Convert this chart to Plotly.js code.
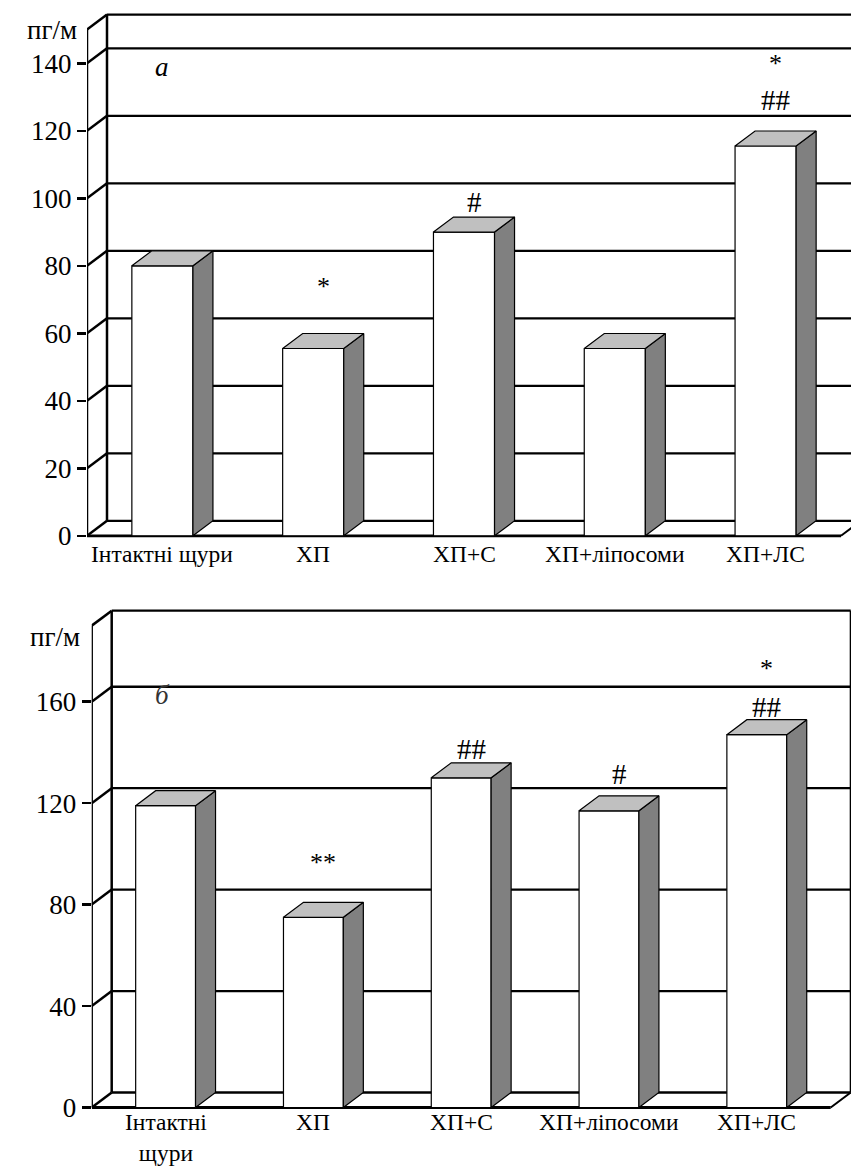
<!DOCTYPE html>
<html><head><meta charset="utf-8">
<script src="https://cdn.plot.ly/plotly-3.0.1.min.js"></script>
<style>html,body{margin:0;padding:0;overflow:hidden;background:#fff}</style>
</head><body><div id="chart" style="width:870px;height:1167px"></div>
<script>
// ---------- data ----------
const categoriesA = ['Інтактні щури', 'ХП', 'ХП+С', 'ХП+ліпосоми', 'ХП+ЛС'];
const categoriesB = ['Інтактні<br>щури', 'ХП', 'ХП+С', 'ХП+ліпосоми', 'ХП+ЛС'];
const valuesA = [80, 55.5, 90, 55.5, 115.5];
const valuesB = [119, 75, 130, 117, 147];
const ticksA = [0, 20, 40, 60, 80, 100, 120, 140];
const ticksB = [0, 40, 80, 120, 160];
const axisMaxA = 150;
const axisMaxB = 190;
const hashA = ['', '', '#', '', '##'];
const starA = ['', '*', '', '', '*'];
const hashB = ['', '', '##', '#', '##'];
const starB = ['', '**', '', '', '*'];
const unitLabel = 'пг/м';
const panelLetterA = 'а';
const panelLetterB = 'б';

// ---------- layout geometry (pixels) ----------
const W = 870, H = 1167;
const DX = 20, DY = 15;       // 3-D depth offset in px
const BARW = 0.405;           // bar width as fraction of category
const FONT = 'Liberation Serif, Times New Roman, DejaVu Serif, serif';
const panels = [
  {key: 'A', vals: valuesA, cats: categoriesA, ticks: ticksA, max: axisMaxA, hash: hashA, star: starA,
   letter: panelLetterA, xFront: 87, catW: 150.8, y0: 535.8, ppu: 3.375, top: 5, bottom: 545, labelShift: -3,
   hashOff: [0, 0, 30, 0, 46], starOff: [0, 62, 0, 0, 82], unitPos: [52, 30], letterPos: [162, 67], letterColor: '#000'},
  {key: 'B', vals: valuesB, cats: categoriesB, ticks: ticksB, max: axisMaxB, hash: hashB, star: starB,
   letter: panelLetterB, xFront: 91.7, catW: 147.8, y0: 1107.5, ppu: 2.536, top: 598, bottom: 1115, labelShift: 1,
   hashOff: [0, 0, 29, 37, 28], starOff: [0, 55, 0, 0, 66], unitPos: [55, 637], letterPos: [162, 695], letterColor: '#333'}
];

const data = [];
const shapes = [];
const annotations = [];
const layout = {
  width: W, height: H, margin: {l: 0, r: 0, t: 0, b: 0},
  paper_bgcolor: '#fff', plot_bgcolor: 'rgba(0,0,0,0)', showlegend: false,
  font: {family: FONT, color: '#000'}
};

panels.forEach((p, k) => {
  const sfx = k === 0 ? '' : '2';
  const xa = 'x' + sfx, ya = 'y' + sfx;
  const dxU = DX / p.catW, dyU = DY / p.ppu;
  const xLeft = -0.5, xRight = p.cats.length - 0.5;
  layout['xaxis' + sfx] = {
    domain: [p.xFront / W, 1], range: [-0.5, -0.5 + (W - p.xFront) / p.catW],
    visible: false, fixedrange: true, anchor: ya
  };
  layout['yaxis' + sfx] = {
    domain: [1 - p.bottom / H, 1 - p.top / H],
    range: [(p.y0 - p.bottom) / p.ppu, (p.y0 - p.top) / p.ppu],
    anchor: xa, tickmode: 'array', tickvals: p.ticks, ticktext: p.ticks.map(String),
    ticks: 'outside', ticklen: 9, tickwidth: 2.5, tickcolor: '#000',
    showgrid: false, zeroline: false, showline: false,
    tickfont: {family: FONT, size: 27, color: '#000'}, fixedrange: true
  };
  const line = (x0, y0, x1, y1, w) => shapes.push({type: 'line', xref: xa, yref: ya, x0, y0, x1, y1,
    layer: 'below', line: {color: '#000', width: w}});
  const levels = p.ticks.concat([p.max]);
  levels.forEach(v => {
    line(xLeft, v, xLeft + dxU, v + dyU, 2.5);                 // connector to back wall
    line(xLeft + dxU, v + dyU, xRight + dxU, v + dyU, 2.3);    // back-wall gridline
  });
  line(xLeft, 0, xLeft, p.max, 2.5);                           // front axis
  line(xLeft + dxU, dyU, xLeft + dxU, p.max + dyU, 2.5);       // back wall left edge
  line(xRight + dxU, dyU, xRight + dxU, p.max + dyU, 2);       // back wall right edge
  line(xRight, 0, xRight + dxU, dyU, 2);                       // floor right edge
  line(xLeft, 0, xRight, 0, 2.8);                              // front floor edge

  const xs = p.vals.map((_, i) => i);
  data.push({type: 'bar', x: xs, y: p.vals, width: BARW, xaxis: xa, yaxis: ya,
    marker: {color: '#fff', line: {color: '#000', width: 1.2}}, hoverinfo: 'skip'});
  const topX = [], topY = [], sideX = [], sideY = [];
  p.vals.forEach((v, i) => {
    const a = i - BARW / 2, b = i + BARW / 2;
    topX.push(a, a + dxU, b + dxU, b, a, null);
    topY.push(v, v + dyU, v + dyU, v, v, null);
    sideX.push(b, b + dxU, b + dxU, b, b, null);
    sideY.push(0, dyU, v + dyU, v, 0, null);
  });
  data.push({type: 'scatter', mode: 'lines', x: sideX, y: sideY, xaxis: xa, yaxis: ya, fill: 'toself',
    fillcolor: '#808080', line: {color: '#000', width: 1.2}, hoverinfo: 'skip'});
  data.push({type: 'scatter', mode: 'lines', x: topX, y: topY, xaxis: xa, yaxis: ya, fill: 'toself',
    fillcolor: '#c0c0c0', line: {color: '#000', width: 1.2}, hoverinfo: 'skip'});

  // category labels
  p.cats.forEach((c, i) => annotations.push({xref: xa, yref: ya, x: i, y: 0, yanchor: 'top', yshift: p.labelShift,
    text: c, showarrow: false, font: {family: FONT, size: 23.5, color: '#000'}, align: 'center'}));
  // significance marks
  p.vals.forEach((v, i) => {
    if (p.hash[i]) annotations.push({xref: xa, yref: ya, x: i + dxU / 2, y: v, yshift: p.hashOff[i],
      yanchor: 'middle', text: p.hash[i], showarrow: false, font: {family: FONT, size: 29, color: '#000'}});
    if (p.star[i]) annotations.push({xref: xa, yref: ya, x: i + dxU / 2, y: v, yshift: p.starOff[i],
      yanchor: 'middle', text: p.star[i], showarrow: false, font: {family: FONT, size: 26, color: '#000'}});
  });
  annotations.push({xref: 'paper', yref: 'paper', x: p.unitPos[0] / W, y: 1 - p.unitPos[1] / H,
    xanchor: 'center', yanchor: 'middle', text: unitLabel, showarrow: false,
    font: {family: FONT, size: 27, color: '#000'}});
  annotations.push({xref: 'paper', yref: 'paper', x: p.letterPos[0] / W, y: 1 - p.letterPos[1] / H,
    xanchor: 'center', yanchor: 'middle', text: '<i>' + p.letter + '</i>', showarrow: false,
    font: {family: FONT, size: 27, color: p.letterColor}});
});
layout.shapes = shapes;
layout.annotations = annotations;
Plotly.newPlot('chart', data, layout, {staticPlot: true, displayModeBar: false});
</script></body></html>
